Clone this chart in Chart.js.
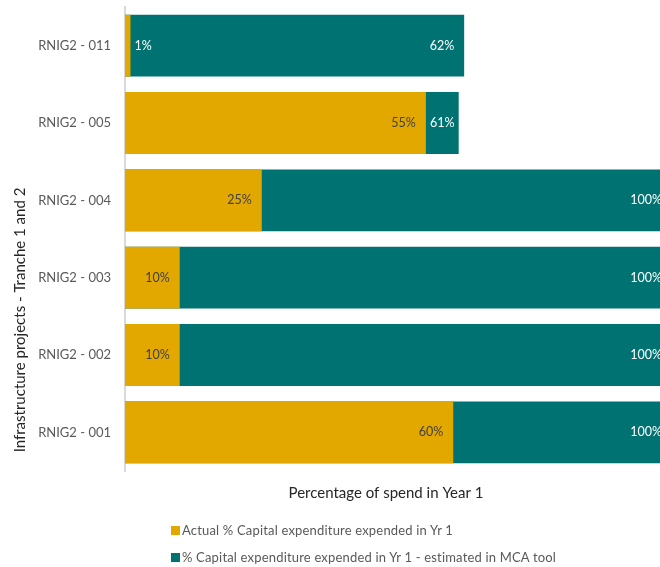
<!DOCTYPE html>
<html>
<head>
<meta charset="utf-8">
<script src="https://cdn.jsdelivr.net/npm/chart.js@4.4.0/dist/chart.umd.min.js"></script>
<style>
    html, body { margin: 0; padding: 0; background: #fff; overflow: hidden; }
    #wrap { position: relative; width: 660px; height: 567px; }
    .leyenda { position: absolute; left: 171px; font: 13px Lato, sans-serif; letter-spacing: 0.18px; color: #595959; white-space: nowrap; }
    .leyenda span { display: inline-block; width: 9px; height: 9px; margin-right: 2px; vertical-align: -0px; }
</style>
</head>
<body>
<div id="wrap">
    <canvas id="grafico" width="660" height="567"></canvas>
    <div class="leyenda" style="top:522px"><span style="background:#e2a800"></span>Actual % Capital expenditure expended in Yr 1</div>
    <div class="leyenda" style="top:549px"><span style="background:#007272"></span>% Capital expenditure expended in Yr 1 - estimated in MCA tool</div>
</div>
<script>
const proyectos = ["RNIG2 - 011", "RNIG2 - 005", "RNIG2 - 004", "RNIG2 - 003", "RNIG2 - 002", "RNIG2 - 001"];
const gastoReal = [1, 55, 25, 10, 10, 60];
const gastoEstimado = [62, 61, 100, 100, 100, 100];

const amarillo = "#e2a800";
const verde = "#007272";

// etiquetas dentro de las barras + titulos de los ejes
const etiquetas = {
    id: "etiquetas",
    afterDatasetsDraw(chart) {
        const ctx = chart.ctx;
        const real = chart.getDatasetMeta(0).data;
        const est = chart.getDatasetMeta(1).data;
        ctx.save();
        ctx.font = "12.5px Lato, sans-serif";
        ctx.textBaseline = "middle";
        real.forEach((barra, i) => {
            const txt = gastoReal[i] + "%";
            const w = ctx.measureText(txt).width;
            if (barra.x - barra.base > w + 12) {
                ctx.fillStyle = "#404040";
                ctx.textAlign = "right";
                ctx.fillText(txt, barra.x - 10, barra.y);
            } else {
                ctx.fillStyle = "#ffffff";
                ctx.textAlign = "left";
                ctx.fillText(txt, barra.x + 4, barra.y);
            }
        });
        est.forEach((barra, i) => {
            const txt = gastoEstimado[i] + "%";
            const w = ctx.measureText(txt).width;
            const finReal = real[i].x;
            ctx.fillStyle = "#ffffff";
            if (barra.x - 10 - w < finReal + 30) {
                ctx.textAlign = "center";
                ctx.fillText(txt, (barra.x + finReal) / 2, barra.y);
            } else {
                ctx.textAlign = "right";
                ctx.fillText(txt, barra.x - 10, barra.y);
            }
        });
        ctx.restore();
    },
    afterDraw(chart) {
        const ctx = chart.ctx;
        ctx.save();
        ctx.font = "15px Lato, sans-serif";
        ctx.fillStyle = "#262626";
        ctx.textAlign = "center";
        ctx.textBaseline = "middle";
        ctx.fillText("Percentage of spend in Year 1", 386, 493);
        ctx.translate(20, 320);
        ctx.rotate(-Math.PI / 2);
        ctx.fillText("Infrastructure projects - Tranche 1 and 2", 0, 0);
        ctx.restore();
    }
};

new Chart(document.getElementById("grafico"), {
    type: "bar",
    data: {
        labels: proyectos,
        datasets: [{
            label: "Actual % Capital expenditure expended in Yr 1",
            data: gastoReal,
            backgroundColor: amarillo,
            grouped: false,
            categoryPercentage: 0.8,
            barPercentage: 1
        }, {
            label: "% Capital expenditure expended in Yr 1 - estimated in MCA tool",
            data: gastoEstimado,
            backgroundColor: verde,
            grouped: false,
            categoryPercentage: 0.8,
            barPercentage: 1
        }]
    },
    options: {
        indexAxis: "y",
        responsive: false,
        animation: false,
        layout: { padding: { top: 7, right: 0, bottom: 96, left: 0 } },
        plugins: {
            legend: { display: false },
            tooltip: { enabled: false }
        },
        scales: {
            x: { display: false, min: 0, max: 97.8 },
            y: {
                grid: { display: false, drawTicks: false },
                border: { display: true, color: "#d9d9d9", width: 2 },
                ticks: { padding: 14, color: "#595959", font: { family: "Lato", size: 13 } },
                afterFit(scale) {
                    scale.width = 125;
                    scale.paddingTop = 0;
                    scale.paddingBottom = 0;
                }
            }
        }
    },
    plugins: [etiquetas]
});
</script>
</body>
</html>
